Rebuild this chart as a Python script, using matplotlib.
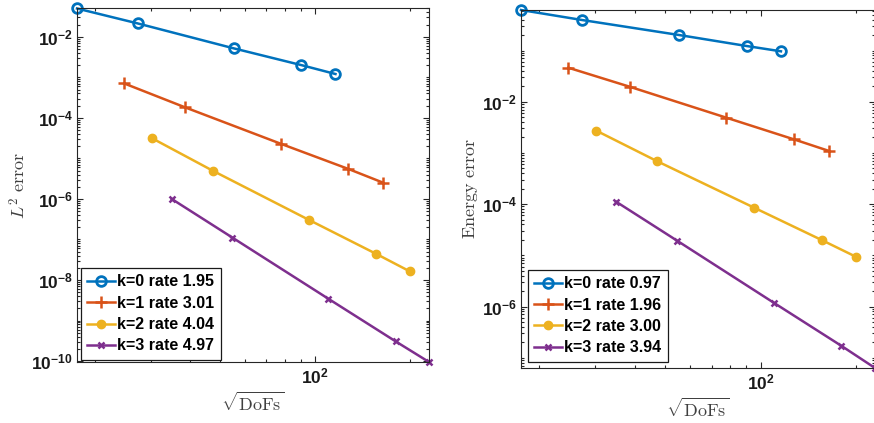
import matplotlib
matplotlib.use("Agg")
import matplotlib.pyplot as plt
from matplotlib.ticker import FixedLocator, FuncFormatter, NullFormatter
import numpy as np

plt.rcParams['mathtext.fontset'] = 'custom'
plt.rcParams['mathtext.rm'] = 'Liberation Sans:bold'
plt.rcParams['mathtext.bf'] = 'Liberation Sans:bold'
plt.rcParams['mathtext.it'] = 'Liberation Sans:bold'
plt.rcParams['font.family'] = ['Liberation Sans', 'DejaVu Sans']

# sqrt(DoFs) for each polynomial degree
x_k0 = [17.5, 27.3, 55.2, 90.3, 116.0]
x_k1 = [24.7, 38.6, 78.0, 127.5, 164.0]
x_k2 = [30.3, 47.2, 95.5, 156.0, 200.0]
x_k3 = [35.0, 54.5, 110.0, 180.0, 230.0]

# L2 errors
l2_k0 = [5.0e-2, 2.14e-2, 5.18e-3, 2.01e-3, 1.21e-3]
l2_k1 = [7.1e-4, 1.82e-4, 2.28e-5, 5.5e-6, 2.54e-6]
l2_k2 = [3.15e-5, 5.0e-6, 3.05e-7, 4.45e-8, 1.63e-8]
l2_k3 = [1.0e-6, 1.12e-7, 3.47e-9, 3.08e-10, 9.5e-11]

# Energy errors
en_k0 = [0.618, 0.394, 0.201, 0.1225, 0.0964]
en_k1 = [4.61e-2, 1.96e-2, 4.87e-3, 1.84e-3, 1.10e-3]
en_k2 = [2.71e-3, 6.85e-4, 8.5e-5, 1.99e-5, 9.4e-6]
en_k3 = [1.11e-4, 1.93e-5, 1.19e-6, 1.71e-7, 6.3e-8]

labels_l2 = ['k=0 rate 1.95', 'k=1 rate 3.01', 'k=2 rate 4.04', 'k=3 rate 4.97']
labels_en = ['k=0 rate 0.97', 'k=1 rate 1.96', 'k=2 rate 3.00', 'k=3 rate 3.94']

colors = ['#0072BD', '#D95319', '#EDB120', '#7E2F8E']
W, H = 874, 423
fig = plt.figure(figsize=(W / 100, H / 100), dpi=100)

axcol = '#262626'

def style(ax, xs, ys, labels, ylabel, pos, leg_anchor, yl):
    ax.set_position(pos)
    styles = [dict(marker='o', mfc='none', ms=7, mew=2.0),
              dict(marker='+', ms=8, mew=1.8),
              dict(marker='o', ms=6, mew=1.0),
              dict(marker='x', ms=5, mew=1.8)]
    for x, y, c, st, lab in zip(xs, ys, colors, styles, labels):
        ax.plot(x, y, color=c, lw=1.8, label=lab, mec=c, clip_on=False, **st)
    ax.set_xscale('log')
    ax.set_yscale('log')
    allx = np.concatenate([np.asarray(v) for v in xs])
    ax.set_xlim(allx.min(), allx.max())
    ax.set_ylim(yl[0], yl[1])
    # ticks
    ax.xaxis.set_major_locator(FixedLocator([100]))
    ax.xaxis.set_minor_locator(FixedLocator([m * 10 ** e for e in range(1, 3) for m in range(2, 10)]))
    ax.xaxis.set_minor_formatter(NullFormatter())
    majors = [10.0 ** e for e in range(-12, 2, 2) if yl[0] * 0.999 <= 10.0 ** e <= yl[1]]
    ax.yaxis.set_major_locator(FixedLocator(majors))
    minors = [m * 10.0 ** e for e in range(-12, 2) for m in range(1, 10)
              if not (m == 1 and e % 2 == 0) and yl[0] <= m * 10.0 ** e <= yl[1]]
    ax.yaxis.set_minor_locator(FixedLocator(minors))
    ax.yaxis.set_minor_formatter(NullFormatter())
    fmt = FuncFormatter(lambda v, p: r'$\mathbf{10^{%d}}$' % int(round(np.log10(v))))
    ax.xaxis.set_major_formatter(fmt)
    ax.yaxis.set_major_formatter(fmt)
    ax.tick_params(which='both', direction='in', top=True, right=True, color=axcol, width=0.8)
    ax.tick_params(which='major', length=4, labelsize=12.5, labelcolor='#1a1a1a', pad=3)
    ax.tick_params(which='minor', length=2.5)
    for s in ax.spines.values():
        s.set_color(axcol)
        s.set_linewidth(0.8)
    ax.set_xlabel(r'$\sqrt{\mathrm{DoFs}}$', fontsize=13, color='#404040', math_fontfamily='cm', labelpad=4)
    ax.set_ylabel(ylabel, fontsize=13, color='#404040', math_fontfamily='cm', labelpad=1.5)
    leg = ax.legend(loc='lower left', bbox_to_anchor=leg_anchor, frameon=True, fancybox=False,
                    edgecolor='#1a1a1a', framealpha=1, borderpad=0.4, labelspacing=0.4,
                    handlelength=1.75, handletextpad=0.15, borderaxespad=0,
                    prop={'family': 'Liberation Sans', 'weight': 'bold', 'size': 11.5})
    leg.get_frame().set_linewidth(0.9)

ax1 = fig.add_axes([0, 0, 1, 1])
style(ax1, [x_k0, x_k1, x_k2, x_k3], [l2_k0, l2_k1, l2_k2, l2_k3], labels_l2,
      r'$L^2\ \mathrm{error}$',
      [77 / W, 1 - 362 / H, 352 / W, (362 - 8.5) / H], (0.0105, 0.006), (9.5e-11, 5.0e-2))
ax2 = fig.add_axes([0.5, 0, 0.5, 1])
style(ax2, [x_k0, x_k1, x_k2, x_k3], [en_k0, en_k1, en_k2, en_k3], labels_en,
      r'$\mathrm{Energy\ error}$',
      [521 / W, 1 - 368 / H, 354 / W, (368 - 10) / H], (0.019, 0.0176), (6.3e-8, 0.618))

fig.savefig('out.png', dpi=100)
